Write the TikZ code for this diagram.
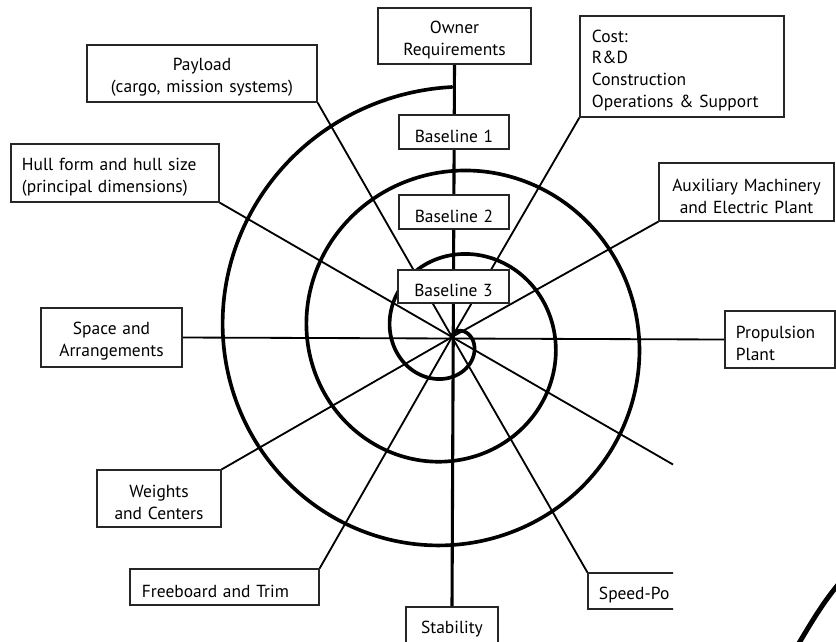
\documentclass[tikz,border=0pt]{standalone}
\usepackage{fontspec}
\setmainfont{PT Sans}
\usetikzlibrary{backgrounds}
\begin{document}
\begin{tikzpicture}[x=0.025cm,y=-0.025cm,
  box/.style={draw=black!85, line width=0.8pt, fill=white, inner sep=0pt,
    font=\fontsize{12.4}{15.6}\selectfont,
    execute at begin node={\rule{0pt}{14.5pt}}},
  cbox/.style={box, align=center, inner xsep=0.2cm},
  lbox/.style={box, align=left},
  spoke/.style={line width=1.3pt},
  axis/.style={line width=2.2pt},
  spiral/.style={line width=2.6pt, line join=round, line cap=round}]
\clip (0,0) rectangle (836,641);
\coordinate (c) at (452,337);
% boxes
\node[cbox, text width=3.425cm, minimum height=1.4cm] (own) at (454.5,36) {Owner\\Requirements};
\node[cbox, text width=5.35cm, minimum height=1.425cm] (pay) at (202,73.5) {Payload\\(cargo, mission systems)};
\node[lbox, text width=4.65cm, inner xsep=0.275cm, minimum height=1.45cm] (hull) at (115,173) {Hull form and hull size\\(principal dimensions)};
\node[cbox, text width=2.35cm, minimum height=0.85cm] (b1) at (454,132) {Baseline 1};
\node[cbox, text width=2.35cm, minimum height=0.85cm] (b2) at (454,212) {Baseline 2};
\node[cbox, text width=2.375cm, minimum height=0.825cm] (b3) at (453.5,286.5) {Baseline 3};
\node[lbox, text width=4.5cm, inner xsep=0.3cm, minimum height=2.525cm] (cost) at (682,66.5) {Cost:\\R\&D\\Construction\\Operations \& Support};
\node[cbox, text width=3.975cm, minimum height=1.45cm] (aux) at (746.5,192) {Auxiliary Machinery\\and Electric Plant};
\node[lbox, text width=2.2cm, inner xsep=0.275cm, minimum height=1.425cm] (prop) at (780,339.5) {Propulsion\\Plant};
\node[cbox, text width=3.125cm, minimum height=1.475cm] (space) at (111.5,337.5) {Space and\\Arrangements};
\node[cbox, text width=2.7cm, minimum height=1.425cm] (wts) at (159,498.5) {Weights\\and Centers};
\node[lbox, text width=4.125cm, inner xsep=0.3cm, minimum height=0.9cm] (free) at (224.5,587) {Freeboard and Trim};
\node[cbox, text width=1.9cm, minimum height=0.9cm] (stab) at (452,625) {Stability};
\begin{scope}
  \clip (0,0) rectangle (673,641);
  \node[lbox, text width=2.25cm, inner xsep=0.275cm, minimum height=0.9cm] (speed) at (644,591) {Speed-Po};
\end{scope}
\coordinate (hid) at (673,464.5);
\begin{pgfonlayer}{background}
  \draw[axis] (own.south) -- (stab.north);
  \draw[spoke] (space.east) -- (prop.west);
  \draw[spoke] (c) -- (hid);
  \draw[spoke] (pay.south east) -- (c);
  \draw[spoke] (hull.south east) -- (c);
  \draw[spoke] (cost.south west) -- (c);
  \draw[spoke] (aux.south west) -- (c);
  \draw[spoke] (wts.north east) -- (c);
  \draw[spoke] (free.north east) -- (c);
  \draw[spoke] (speed.north west) -- (c);
  \draw[spiral] plot[variable=\t, domain=-81:990, samples=500, smooth]
    ({452+(19+0.23333*\t)*cos(\t)}, {337+(19+0.23333*\t)*sin(\t)});
\end{pgfonlayer}
\draw[line width=3.5pt] (796,648) .. controls (810,625) and (822,603) .. (842,580);
\end{tikzpicture}
\end{document}
